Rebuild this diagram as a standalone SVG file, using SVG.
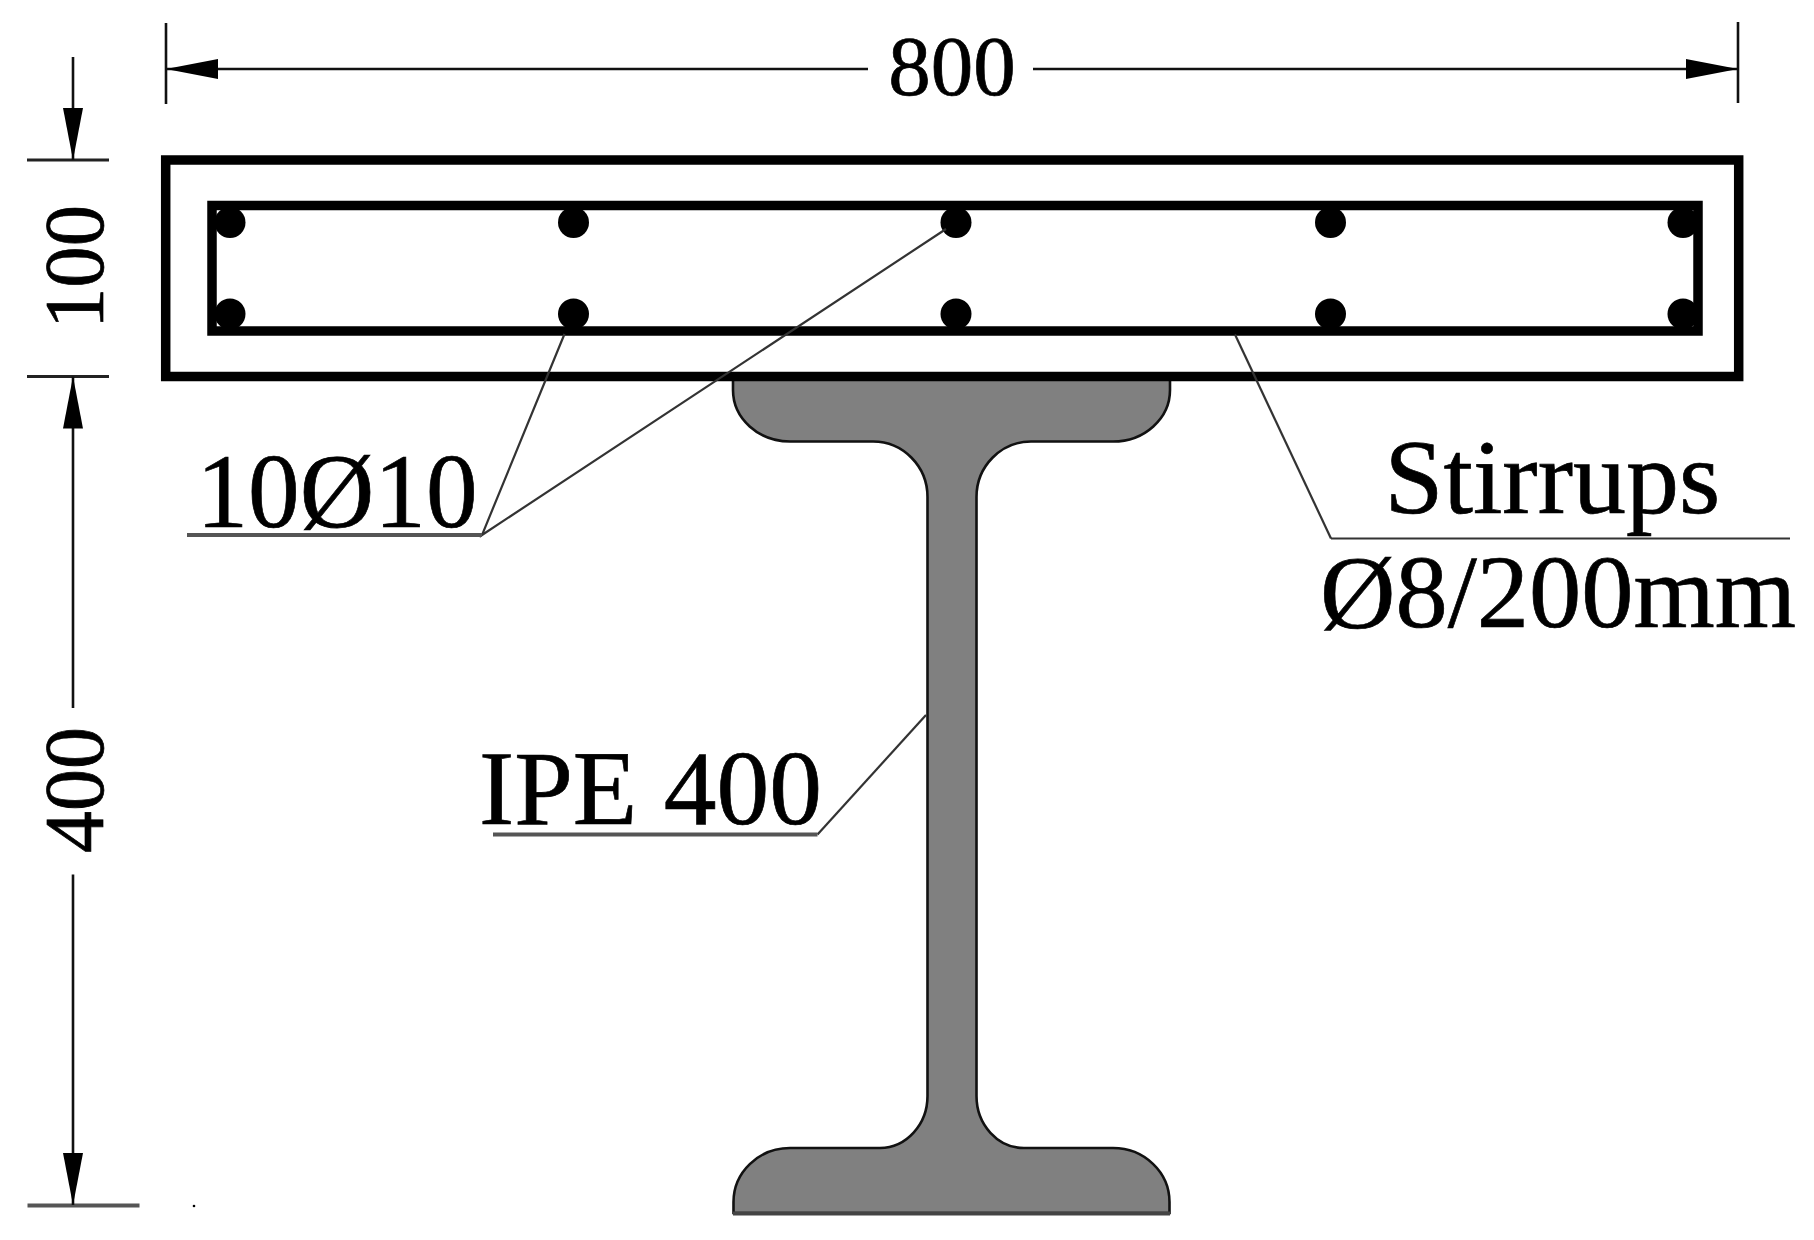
<svg xmlns="http://www.w3.org/2000/svg" width="1814" height="1240" viewBox="0 0 1814 1240">
  <style>
    text { font-family: "Liberation Serif", "Times New Roman", serif; fill: #000; stroke: #000; stroke-width: 0.7; }
    .dimt { font-size: 84px; }
    .lab { font-size: 105px; }
    .thick { fill: none; stroke: #000; stroke-width: 9.5; stroke-linejoin: miter; }
    .dim { fill: none; stroke: #111; stroke-width: 2.6; }
    .tick { fill: none; stroke: #222; stroke-width: 3; }
    .lead { fill: none; stroke: #333; stroke-width: 2.2; }
    .under { fill: none; stroke: #555; stroke-width: 4; }
    .bar { fill: #000; }
  </style>
  <defs>
    <marker id="arrow" viewBox="0 0 52 20" refX="52" refY="10" markerWidth="52" markerHeight="20" markerUnits="userSpaceOnUse" orient="auto-start-reverse">
      <path d="M0 0L52 10L0 20Z" fill="#000"/>
    </marker>
  </defs>
  <rect width="1814" height="1240" fill="#fff"/>

  <g id="ipe-400-section">
    <path d="M733 377V390A57 51.500 0 0 0 790 441.500H873A54.500 55.500 0 0 1 927.500 497V1096A48 52 0 0 1 880 1148H790A56.500 54 0 0 0 733.500 1202V1213H1169.500V1202A56.500 54 0 0 0 1113 1148H1024A47.500 52 0 0 1 976.500 1096V497A54.500 55.500 0 0 1 1031 441.500H1113A57 51.500 0 0 0 1170 390V377Z" fill="#808080" stroke="#111" stroke-width="2.6"/>
    <path d="M733 1213.500H1170" fill="none" stroke="#444" stroke-width="4"/>
  </g>
  <g id="slab">
    <rect class="thick" x="165.700" y="160" width="1573" height="216.500"/>
  </g>
  <g id="stirrup">
    <rect class="thick" x="212" y="205.500" width="1486" height="125.500"/>
  </g>
  <g id="rebars">
    <circle class="bar" cx="230" cy="222.500" r="15.500"/>
    <circle class="bar" cx="573.500" cy="222.500" r="15.500"/>
    <circle class="bar" cx="956" cy="222.500" r="15.500"/>
    <circle class="bar" cx="1330.500" cy="222.500" r="15.500"/>
    <circle class="bar" cx="1683" cy="222.500" r="15.500"/>
    <circle class="bar" cx="230" cy="314" r="15.500"/>
    <circle class="bar" cx="573.500" cy="314" r="15.500"/>
    <circle class="bar" cx="956" cy="314" r="15.500"/>
    <circle class="bar" cx="1330.500" cy="314" r="15.500"/>
    <circle class="bar" cx="1683" cy="314" r="15.500"/>
  </g>

  <g id="connectors">
    <path class="dim" d="M166 23V104"/>
    <path class="dim" d="M1738 22V103"/>
    <path class="dim" marker-start="url(#arrow)" d="M166 69H868"/>
    <path class="dim" marker-end="url(#arrow)" d="M1033 69H1738"/>
    <path class="tick" d="M27 160H109"/>
    <path class="tick" d="M27 376.500H109"/>
    <path class="under" d="M27.500 1205.500H139.500"/>
    <path class="dim" marker-end="url(#arrow)" d="M73 57V160"/>
    <path class="dim" marker-start="url(#arrow)" d="M73 376.500V708"/>
    <path class="dim" marker-end="url(#arrow)" d="M73 874.500V1205"/>
    <circle cx="194" cy="1206" r="1.300" fill="#000"/>
    <path class="lead" d="M564.500 334L482 535L946 229"/>
    <path class="under" d="M187 535H482"/>
    <path class="lead" d="M1235 334.500L1331 538.500"/>
    <path class="lead" d="M1331 538.500H1790"/>
    <path class="lead" d="M926 715L817.500 834.500"/>
    <path class="under" d="M493 834.500H817.500"/>
  </g>

  <g id="label-800"><text class="dimt" x="952" y="95" text-anchor="middle" style="font-size:85px">800</text></g>
  <g id="label-100"><text class="dimt" transform="translate(103 267) rotate(-90)" text-anchor="middle" textLength="124" lengthAdjust="spacingAndGlyphs">100</text></g>
  <g id="label-400"><text class="dimt" transform="translate(103 790) rotate(-90)" text-anchor="middle">400</text></g>
  <g id="label-rebars"><text class="lab" x="196.500" y="527" style="font-size:106px" textLength="281" lengthAdjust="spacingAndGlyphs">10Ø10</text></g>
  <g id="label-stirrups">
    <text class="lab" x="1384.500" y="512.500" style="font-size:106px">Stirrups</text>
    <text class="lab" x="1320" y="627" style="font-size:104.500px">Ø8/200mm</text>
  </g>
  <g id="label-ipe"><text class="lab" x="479" y="824" style="font-size:105.500px">IPE 400</text></g>
</svg>
